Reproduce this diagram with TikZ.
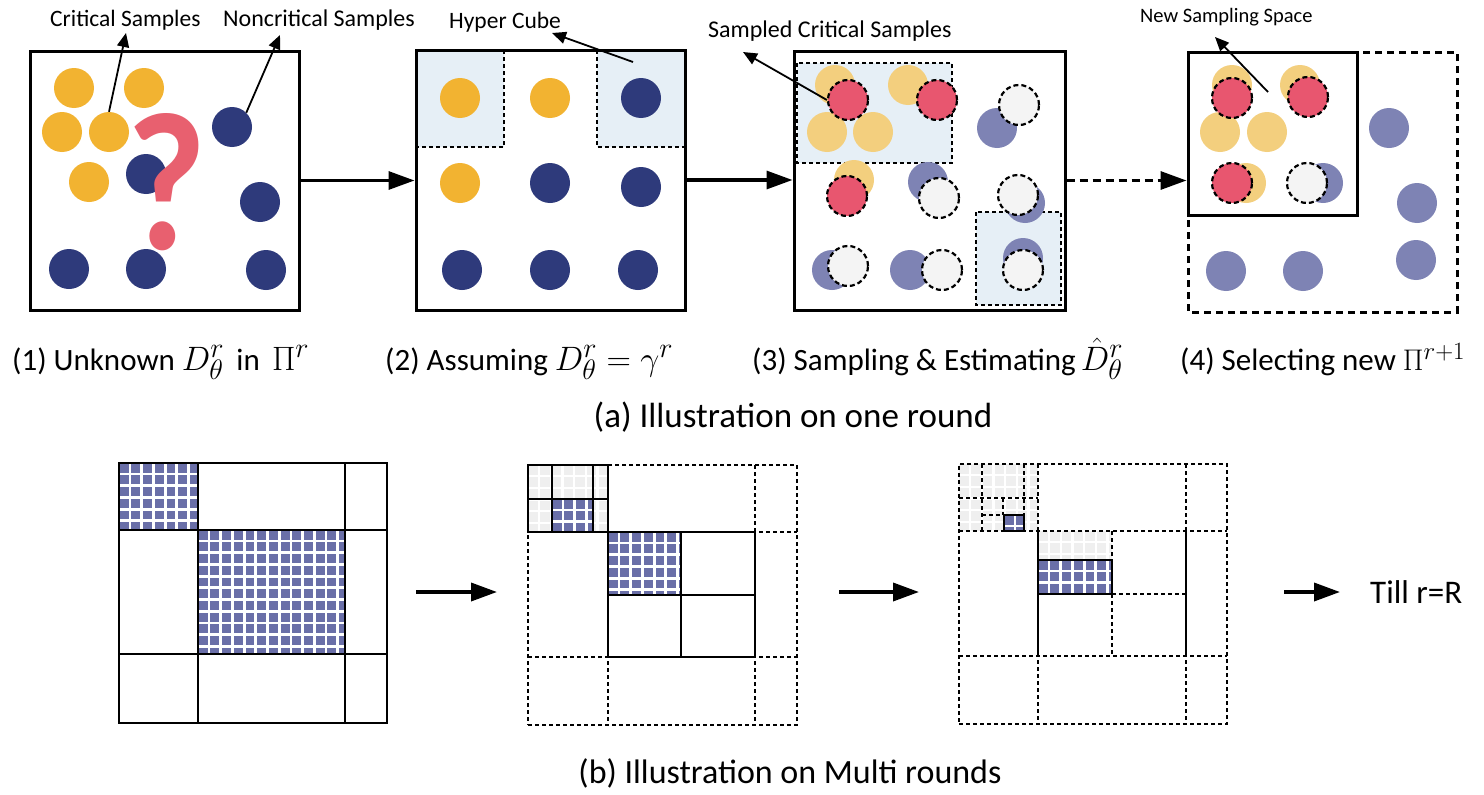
\documentclass[tikz,border=0pt]{standalone}
\usepackage{fontspec}
\setmainfont{Carlito}
\usetikzlibrary{arrows.meta}
\definecolor{cYel}{HTML}{F2B331}
\definecolor{cNav}{HTML}{2E3A7B}
\definecolor{cFYel}{HTML}{F3CF7E}
\definecolor{cFNav}{HTML}{7E83B4}
\definecolor{cRed}{HTML}{E8566F}
\definecolor{cWht}{HTML}{F4F4F4}
\definecolor{cShade}{HTML}{E6EFF6}
\definecolor{cQ}{HTML}{E8606F}
\definecolor{cHatch}{HTML}{6A6FA8}
\definecolor{cFaint}{HTML}{EFEFEF}
\newcommand\mth[1]{\scalebox{1.36}{$#1$}}
\newcommand\mthS[1]{\scalebox{1.2}{$#1$}}
\tikzset{
  panel/.style={draw, line width=3pt, inner sep=0pt, minimum width=#1},
  samp/.style={circle, minimum size=40pt, inner sep=0pt},
  yel/.style={samp, fill=cYel},
  nav/.style={samp, fill=cNav},
  fyel/.style={samp, fill=cFYel},
  fnav/.style={samp, fill=cFNav},
  reds/.style={samp, fill=cRed, draw, line width=2.2pt, dash pattern=on 5pt off 3pt},
  whts/.style={samp, fill=cWht, draw, line width=2.2pt, dash pattern=on 5pt off 3pt},
  lab/.style={font=\fontsize{#1}{#1}\selectfont, inner sep=0pt, anchor=base west},
  capt/.style={font=\fontsize{31}{35}\selectfont, inner sep=0pt, anchor=base west},
  bigcapt/.style={font=\fontsize{#1}{#1}\selectfont, inner sep=0pt},
  labarrow/.style={line width=1.8pt, -{Triangle[length=14pt,width=12pt]}},
  mainarrow/.style={line width=3.2pt, -{Triangle[length=26pt,width=18pt]}},
  hcdash/.style={line width=1.8pt, dash pattern=on 4pt off 3pt},
  gsolid/.style={line width=2.3pt},
  gdash/.style={line width=2pt, dash pattern=on 4pt off 3pt},
  hl/.style={white, line width=2.8pt},
  fl/.style={white, line width=2.2pt},
}
\newcommand\hcell[4]{%
  \begin{scope}
    \clip (#1,#2) rectangle (#3,#4);
    \fill[cHatch] (#1,#2) rectangle (#3,#4);
    \foreach \k in {0,...,13} {
      \draw[hl] ({#1+11+\k*11.7},#2) -- ({#1+11+\k*11.7},#4);
      \draw[hl] (#1,{#2+11+\k*11.7}) -- (#3,{#2+11+\k*11.7});
    }
  \end{scope}}
\newcommand\fcell[4]{%
  \begin{scope}
    \clip (#1,#2) rectangle (#3,#4);
    \fill[cFaint] (#1,#2) rectangle (#3,#4);
    \foreach \k in {0,...,7} {
      \draw[fl] ({#1+11+\k*11.7},#2) -- ({#1+11+\k*11.7},#4);
      \draw[fl] (#1,{#2+11+\k*11.7}) -- (#3,{#2+11+\k*11.7});
    }
  \end{scope}}
\begin{document}
\begin{tikzpicture}[x=1pt,y=-1pt]
\useasboundingbox[fill=white] (0,0) rectangle (1484,795);

% ---------------- Panel 1 ----------------
\node[panel=269pt, minimum height=259pt] (p1) at (164.5,180.5) {};
\node[yel] (y1) at (74,88) {};
\node[yel] (y2) at (144,88) {};
\node[yel] (y3) at (62,132) {};
\node[yel] (y4) at (109,132) {};
\node[yel] (y5) at (89,182) {};
\node[nav] (n1) at (232,127) {};
\node[nav] (n2) at (146,174) {};
\node[nav] (n3) at (260,202) {};
\node[nav] (n4) at (69,269) {};
\node[nav] (n5) at (146,269) {};
\node[nav] (n6) at (266,270) {};
\node[inner sep=0pt, text=cQ, font=\fontsize{197}{197}\selectfont\bfseries] (qm) at (167,182) {\scalebox{0.88}[1]{?}};
\node[lab=23.5] (lcrit) at (50,26) {Critical Samples};
\node[lab=24] (lnon) at (223,26) {Noncritical Samples};
\coordinate (tc1) at (126,33);
\coordinate (tc2) at (280,35);
\draw[labarrow] (y4.north) -- (tc1);
\draw[labarrow] (n1.45) -- (tc2);

% ---------------- Panel 2 ----------------
\fill[cShade] (416,50) rectangle (504,147);
\fill[cShade] (597,50) rectangle (685,147);
\draw[hcdash] (504,50) -- (504,147) -- (416,147);
\draw[hcdash] (597,50) -- (597,147) -- (685,147);
\node[panel=269pt, minimum height=260pt] (p2) at (550.5,180) {};
\node[yel] (q1) at (460,98) {};
\node[yel] (q2) at (550,98) {};
\node[nav] (q3) at (641,98) {};
\node[yel] (q4) at (460,183) {};
\node[nav] (q5) at (550,183) {};
\node[nav] (q6) at (641,187) {};
\node[nav] (q7) at (462,270) {};
\node[nav] (q8) at (550,270) {};
\node[nav] (q9) at (638,270) {};
\node[lab=23.5] (lhyp) at (449,28) {Hyper Cube};
\coordinate (hs) at (633,62);
\coordinate (ht) at (552,33);
\draw[labarrow] (hs) -- (ht);

% ---------------- Panel 3 ----------------
\fill[cShade] (797,63) rectangle (952,163);
\draw[hcdash] (797,63) rectangle (952,163);
\fill[cShade] (976,212) rectangle (1061,305);
\draw[hcdash] (976,212) rectangle (1061,305);
\node[panel=271pt, minimum height=259pt] (p3) at (929.5,180.5) {};
\node[fyel] (a1) at (835,85) {};
\node[fyel] (a2) at (908,85) {};
\node[fyel] (a3) at (827,132) {};
\node[fyel] (a4) at (873,132) {};
\node[fyel] (a5) at (854,180) {};
\node[fnav] (b1) at (997,128) {};
\node[fnav] (b2) at (928,182) {};
\node[fnav] (b3) at (1025,203) {};
\node[fnav] (b4) at (832,270) {};
\node[fnav] (b5) at (910,270) {};
\node[fnav] (b6) at (1023,258) {};
\node[reds] (r1) at (848,100) {};
\node[reds] (r2) at (937,100) {};
\node[reds] (r3) at (847,196) {};
\node[whts] (w1) at (1019,105) {};
\node[whts] (w2) at (939,198) {};
\node[whts] (w3) at (1018,195) {};
\node[whts] (w4) at (848,266) {};
\node[whts] (w5) at (942,270) {};
\node[whts] (w6) at (1023,270) {};
\node[lab=24] (lsam) at (708,37) {Sampled Critical Samples};
\coordinate (st) at (743,52);
\draw[labarrow] (r1.west) -- (st);

% ---------------- Panel 4 ----------------
\draw[line width=3pt, dash pattern=on 7pt off 5pt] (1188,52) rectangle (1457,312);
\node[panel=169pt, minimum height=163pt] (p4) at (1272.5,133.5) {};
\node[fyel] (c1) at (1232,85) {};
\node[fyel] (c2) at (1300,85) {};
\node[fyel] (c3) at (1220,132) {};
\node[fyel] (c4) at (1267,132) {};
\node[fyel] (c5) at (1246,183) {};
\node[fnav] (d1) at (1323,183) {};
\node[fnav] (d2) at (1389,128) {};
\node[fnav] (d3) at (1417,203) {};
\node[fnav] (d4) at (1416,260) {};
\node[fnav] (d5) at (1226,271) {};
\node[fnav] (d6) at (1303,271) {};
\node[reds] (e1) at (1232,98) {};
\node[reds] (e2) at (1308,97) {};
\node[reds] (e3) at (1232,183) {};
\node[whts] (e4) at (1307,183) {};
\node[lab=20.5] (lnew) at (1140,22) {New Sampling Space};
\coordinate (ns) at (1268,92);
\coordinate (nt) at (1215,37);
\draw[labarrow] (ns) -- (nt);

% ---------------- Top arrows ----------------
\draw[mainarrow] (p1.east) -- (p1.east -| p2.west);
\draw[mainarrow] (p2.east) -- (p2.east -| p3.west);
\draw[mainarrow, dash pattern=on 8pt off 5pt] (p3.east) -- (p3.east -| p4.west);

% ---------------- Captions ----------------
\node[capt] (k1) at (12,370) {(1) Unknown \mth{D^r_\theta}\ \,in\ \,\mth{\Pi^r}};
\node[capt] (k2) at (385,370) {(2) Assuming \mth{D^r_\theta=\gamma^r}};
\node[capt] (k3) at (752,370) {(3) Sampling \& Estimating\,\mth{\hat{D}^r_\theta}};
\node[capt] (k4) at (1180,370) {(4) Selecting new \mthS{\Pi^{r+1}}};
\node[bigcapt=35] (ka) at (793,417) {(a) Illustration on one round};

% ---------------- Bottom panel 1 ----------------
\hcell{119}{463}{198}{530}
\hcell{198}{530}{345}{654}
\node[draw, gsolid, inner sep=0pt, minimum width=268pt, minimum height=260pt] (g1) at (253,593) {};
\draw[gsolid] (198,463) -- (198,723) (345,463) -- (345,723) (119,530) -- (387,530) (119,654) -- (387,654);

% ---------------- Bottom panel 2 ----------------
\fcell{528}{465}{608}{532}
\hcell{552}{499}{593}{532}
\hcell{608}{532}{681}{595}
\node[gdash, draw, inner sep=0pt, minimum width=269pt, minimum height=260pt] (g2) at (662.5,595) {};
\draw[gdash] (608,465) -- (608,725) (755,465) -- (755,725) (528,532) -- (797,532) (528,657) -- (797,657);
\draw[gsolid] (528,465) rectangle (608,532);
\draw[gsolid] (552,465) -- (552,532) (593,465) -- (593,532) (528,499) -- (608,499);
\draw[gsolid] (608,532) rectangle (755,657);
\draw[gsolid] (681,532) -- (681,657) (608,595) -- (755,595);
\draw[line width=2.6pt] (552,499) rectangle (593,532);
\draw[line width=2.6pt] (608,532) rectangle (681,595);

% ---------------- Bottom panel 3 ----------------
\fcell{959}{464}{1038}{531}
\fcell{1038}{531}{1112}{560}
\hcell{1004}{515}{1024}{531}
\hcell{1038}{560}{1112}{594}
\node[gdash, draw, inner sep=0pt, minimum width=268pt, minimum height=260pt] (g3) at (1093,594) {};
\draw[gdash] (1038,464) -- (1038,724) (1186,464) -- (1186,724) (959,531) -- (1227,531) (959,656) -- (1227,656);
\draw[gdash] (982,464) -- (982,531) (1024,464) -- (1024,531) (959,498) -- (1038,498);
\draw[gdash] (1003,498) -- (1003,515) (982,515) -- (1003,515);
\draw[gdash] (1112,531) -- (1112,656) (1112,594) -- (1186,594);
\draw[gsolid] (1038,531) -- (1038,656) (1186,531) -- (1186,656);
\draw[line width=2.6pt] (1004,515) rectangle (1024,531);
\draw[line width=2.6pt] (1038,560) rectangle (1112,594);

\node[font=\fontsize{33}{36}\selectfont, inner sep=0pt, anchor=west] (till) at (1370,592) {Till r=R};

% ---------------- Bottom arrows ----------------
\draw[mainarrow, line width=3.6pt, shorten <=28pt, shorten >=30pt] (g1.east |- 0,592) -- (g2.west |- 0,592);
\draw[mainarrow, line width=3.6pt, shorten <=41pt, shorten >=39pt] (g2.east |- 0,592) -- (g3.west |- 0,592);
\draw[mainarrow, line width=3.6pt, shorten <=56pt, shorten >=30pt] (g3.east |- 0,592) -- (till.west);

\node[bigcapt=34] (kb) at (790,773) {(b) Illustration on Multi rounds};
\end{tikzpicture}
\end{document}
